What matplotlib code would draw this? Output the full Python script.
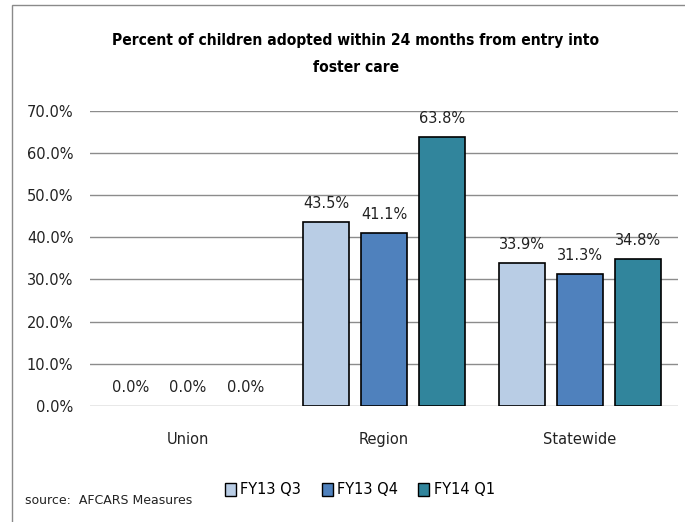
import matplotlib
matplotlib.use("Agg")
import matplotlib.pyplot as plt
import numpy as np
from matplotlib.patches import Rectangle, Patch

categories = ["Union", "Region", "Statewide"]
series = ["FY13 Q3", "FY13 Q4", "FY14 Q1"]
fy13_q3 = [0.0, 43.5, 33.9]
fy13_q4 = [0.0, 41.1, 31.3]
fy14_q1 = [0.0, 63.8, 34.8]
colors = ["#B9CDE5", "#4F81BD", "#31859C"]
yticks = [0, 10, 20, 30, 40, 50, 60, 70]

fig = plt.figure(figsize=(6.85, 5.22), dpi=100)
ax = fig.add_axes([90 / 685, 1 - 406 / 522, 588 / 685, (406 - 110.7) / 522])

x = np.arange(len(categories))
width = 0.236
step = 0.295
for i, (vals, name, c) in enumerate(zip([fy13_q3, fy13_q4, fy14_q1], series, colors)):
    pos = x + (i - 1) * step
    lws = [1.2 if v > 0 else 0 for v in vals]
    bars = ax.bar(pos, vals, width, color=c, edgecolor="black", linewidth=lws,
                  label=name, zorder=3)
    for b, v in zip(bars, vals):
        ax.annotate(f"{v:.1f}%", (b.get_x() + b.get_width() / 2, v),
                    xytext=(0, 8), textcoords="offset points",
                    ha="center", va="bottom", fontsize=10.5, color="#222222")

ax.set_xlim(-0.5, 2.5)
ax.set_ylim(0, 70)
ax.set_yticks(yticks)
ax.set_yticklabels([f"{t:.1f}%" for t in yticks], fontsize=10.5, color="#222222")
ax.set_xticks(x)
ax.set_xticklabels(categories, fontsize=10.5, color="#222222")
ax.tick_params(axis="y", length=0, pad=12)
ax.tick_params(axis="x", length=0, pad=19)
ax.grid(axis="y", color="#8c8c8c", linewidth=1, zorder=0)
for s in ax.spines.values():
    s.set_visible(False)

fig.text(356 / 685, 1 - 40 / 522, "Percent of children adopted within 24 months from entry into",
         ha="center", va="center", fontsize=11.2, weight="bold", fontstretch="condensed")
fig.text(356 / 685, 1 - 68 / 522, "foster care",
         ha="center", va="center", fontsize=11.2, weight="bold", fontstretch="condensed")

handles = [Patch(facecolor=c, edgecolor="black", linewidth=1) for c in colors]
fig.legend(handles, series, loc="center", bbox_to_anchor=(360 / 685, 1 - 490 / 522),
           ncol=3, frameon=False, prop={"size": 10.5},
           handlelength=0.75, handleheight=1.0, handletextpad=0.3, columnspacing=1.4)

fig.text(25 / 685, 1 - 501 / 522, "source:  AFCARS Measures", ha="left", va="center",
         fontsize=9, color="#222222")

fig.patches.append(Rectangle((12 / 685, -0.1), 1.0, 1.1 - 5 / 522,
                             transform=fig.transFigure, fill=False,
                             edgecolor="#8a8a8a", linewidth=1))

fig.savefig("out.png", dpi=100)
